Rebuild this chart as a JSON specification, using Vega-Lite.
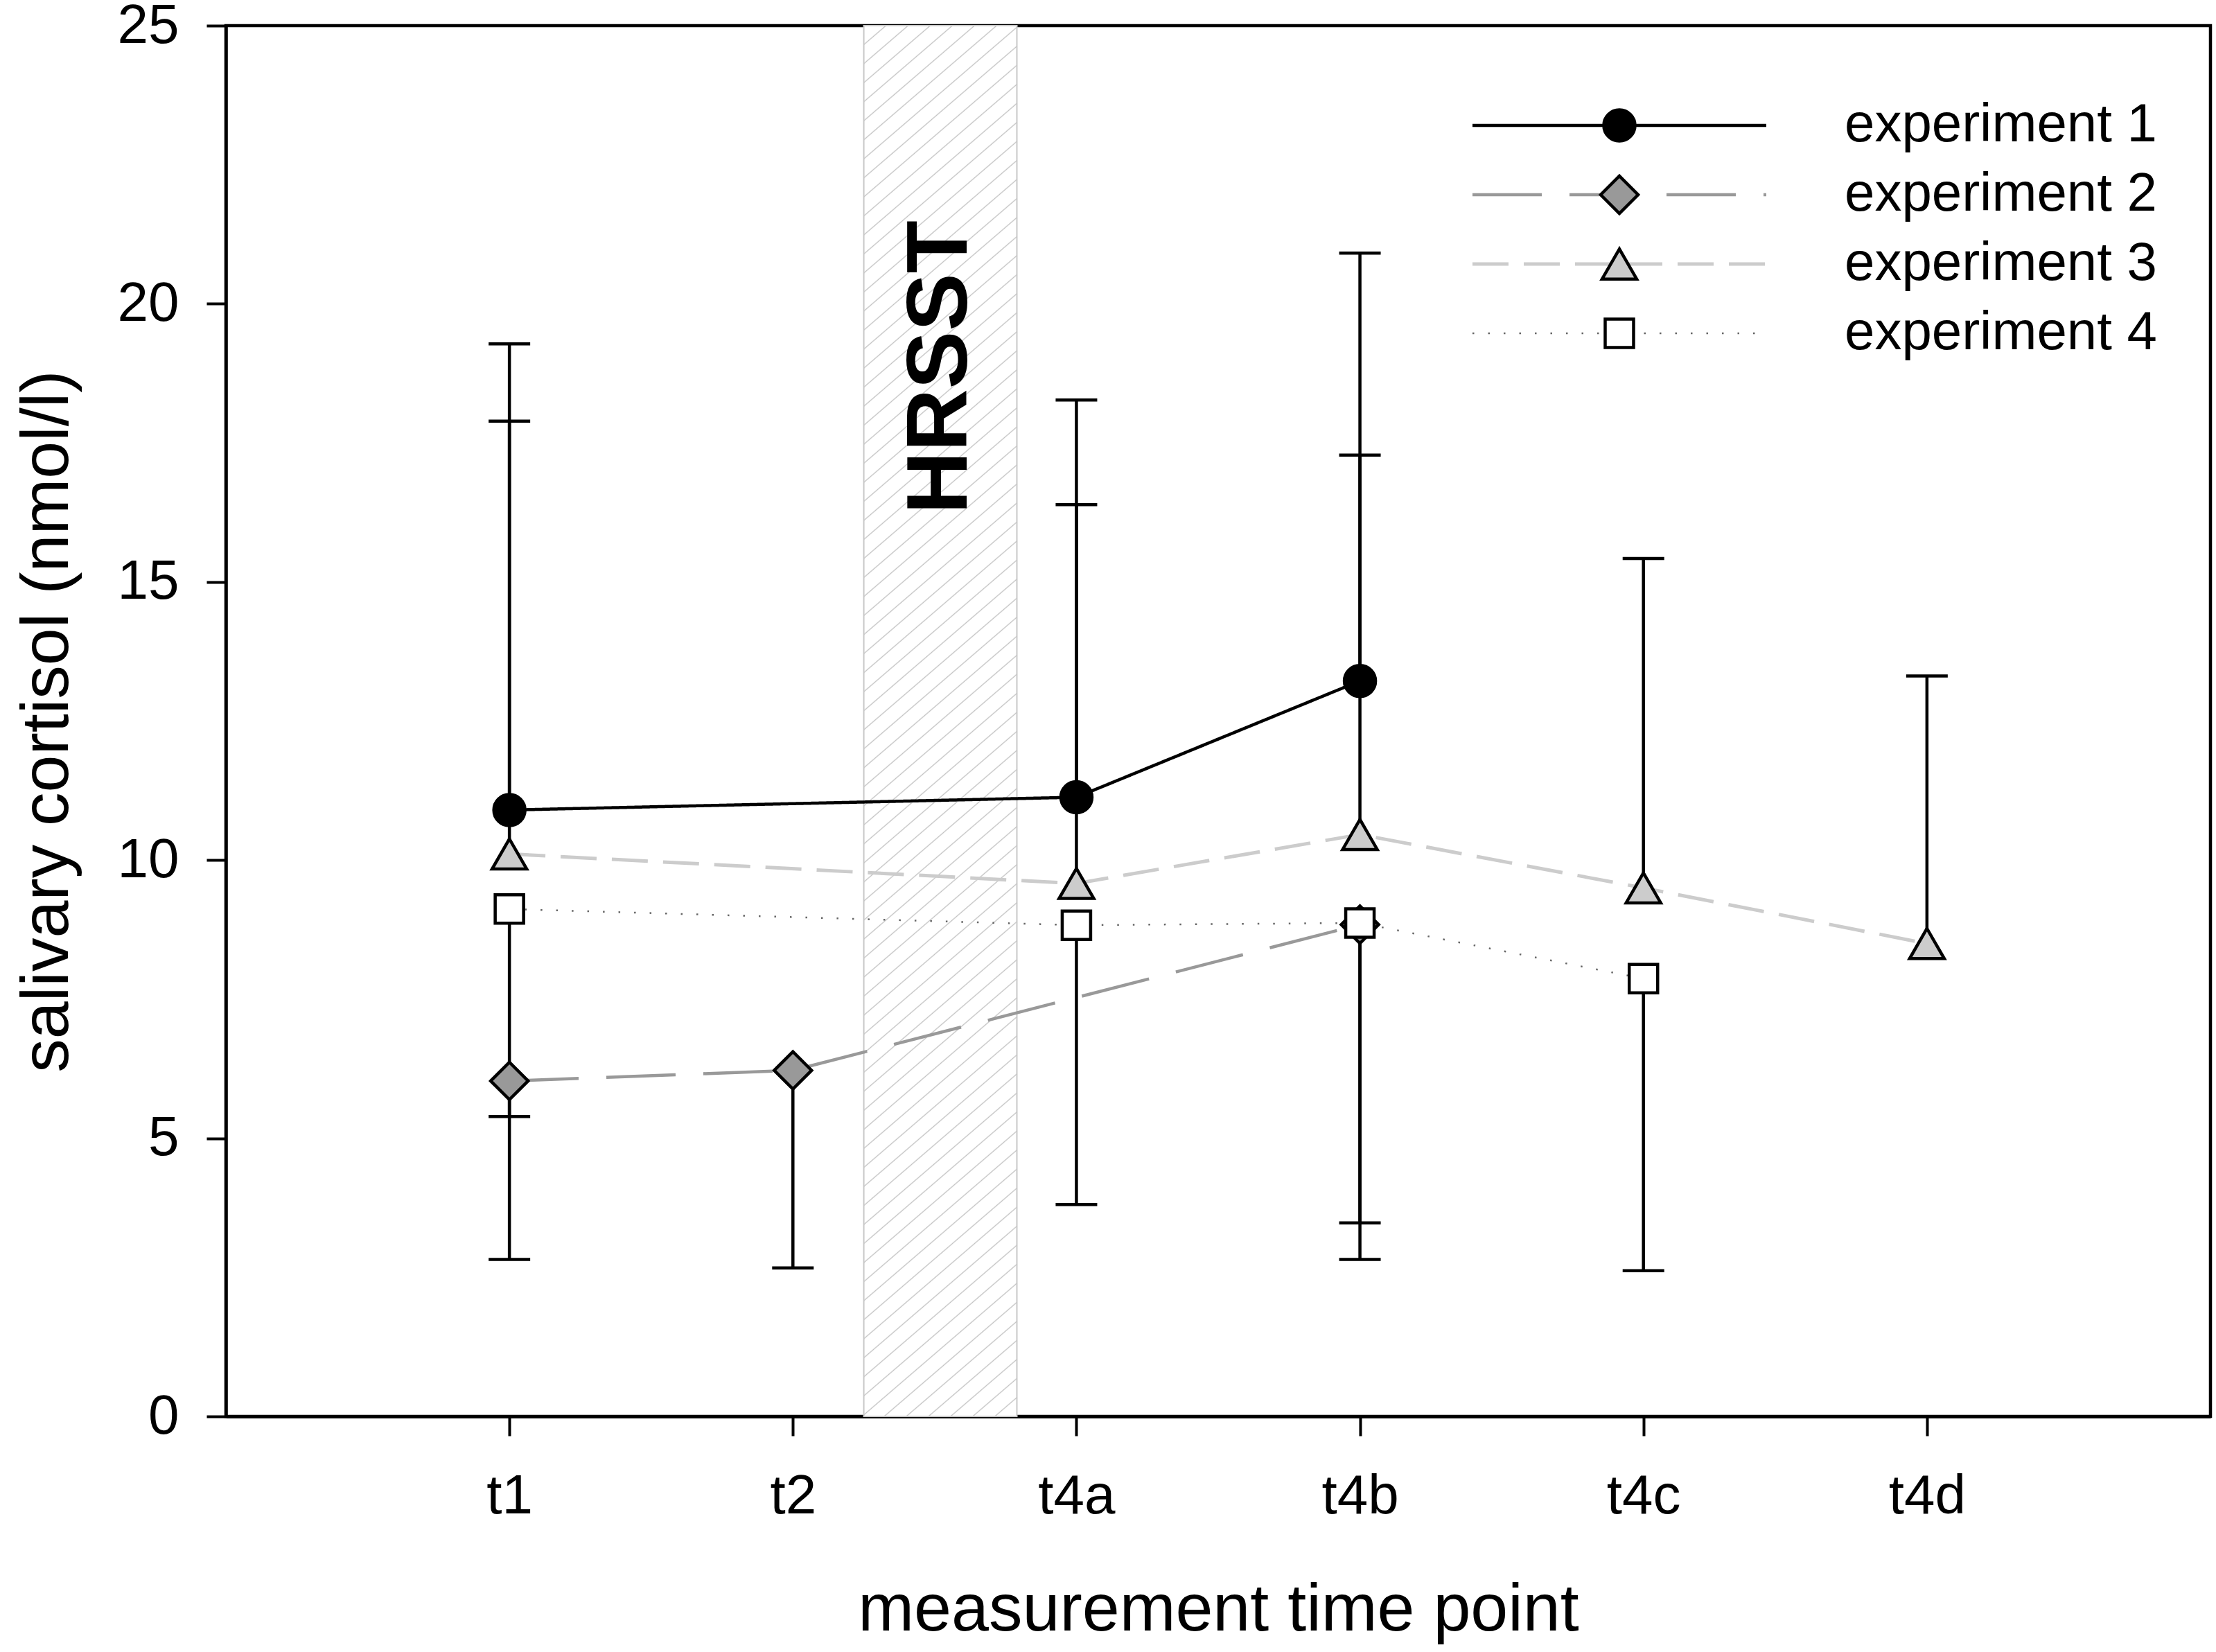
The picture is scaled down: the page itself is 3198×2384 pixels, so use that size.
{
  "$schema": "https://vega.github.io/schema/vega-lite/v6.json",
  "width": 2864,
  "height": 2007,
  "autosize": {"type": "none"},
  "padding": {"left": 326, "top": 37, "right": 8, "bottom": 340},
  "background": "white",
  "datasets": {
    "cortisol": [
      {"experiment": "experiment 1", "time": "t1", "t": 1, "mean": 10.9, "bound": 19.28},
      {"experiment": "experiment 1", "time": "t4a", "t": 3, "mean": 11.13, "bound": 18.27},
      {"experiment": "experiment 1", "time": "t4b", "t": 4, "mean": 13.22, "bound": 20.91},
      {"experiment": "experiment 2", "time": "t1", "t": 1, "mean": 6.03, "bound": 2.82},
      {"experiment": "experiment 2", "time": "t2", "t": 2, "mean": 6.22, "bound": 2.67},
      {"experiment": "experiment 2", "time": "t4b", "t": 4, "mean": 8.84, "bound": 3.48},
      {"experiment": "experiment 3", "time": "t1", "t": 1, "mean": 10.11, "bound": 17.89},
      {"experiment": "experiment 3", "time": "t4a", "t": 3, "mean": 9.58, "bound": 16.39},
      {"experiment": "experiment 3", "time": "t4b", "t": 4, "mean": 10.46, "bound": 17.28},
      {"experiment": "experiment 3", "time": "t4c", "t": 5, "mean": 9.5, "bound": 15.42},
      {"experiment": "experiment 3", "time": "t4d", "t": 6, "mean": 8.5, "bound": 13.31},
      {"experiment": "experiment 4", "time": "t1", "t": 1, "mean": 9.12, "bound": 5.39},
      {"experiment": "experiment 4", "time": "t4a", "t": 3, "mean": 8.83, "bound": 3.81},
      {"experiment": "experiment 4", "time": "t4b", "t": 4, "mean": 8.87, "bound": 2.82},
      {"experiment": "experiment 4", "time": "t4c", "t": 5, "mean": 7.87, "bound": 2.62}
    ],
    "stress": [
      {"phase": "HRSST", "start": 2.25, "end": 2.79}
    ]
  },
  "data": {"name": "cortisol"},
  "layer": [
    {
      "data": {"name": "stress"},
      "mark": {
        "type": "rect",
        "stroke": "#c8c8c8",
        "strokeWidth": 2,
        "fill": {
          "gradient": "linear", "x1": 0, "y1": 0, "x2": 0.1027, "y2": 1.085,
          "stops": [
            {"offset": 0, "color": "#fff"},
            {"offset": 0.0117, "color": "#fff"}, {"offset": 0.0125, "color": "#c4c4c4"}, {"offset": 0.0133, "color": "#fff"},
            {"offset": 0.0242, "color": "#fff"}, {"offset": 0.025, "color": "#c4c4c4"}, {"offset": 0.0258, "color": "#fff"},
            {"offset": 0.0367, "color": "#fff"}, {"offset": 0.0375, "color": "#c4c4c4"}, {"offset": 0.0383, "color": "#fff"},
            {"offset": 0.0492, "color": "#fff"}, {"offset": 0.05, "color": "#c4c4c4"}, {"offset": 0.0508, "color": "#fff"},
            {"offset": 0.0617, "color": "#fff"}, {"offset": 0.0625, "color": "#c4c4c4"}, {"offset": 0.0633, "color": "#fff"},
            {"offset": 0.0742, "color": "#fff"}, {"offset": 0.075, "color": "#c4c4c4"}, {"offset": 0.0758, "color": "#fff"},
            {"offset": 0.0867, "color": "#fff"}, {"offset": 0.0875, "color": "#c4c4c4"}, {"offset": 0.0883, "color": "#fff"},
            {"offset": 0.0992, "color": "#fff"}, {"offset": 0.1, "color": "#c4c4c4"}, {"offset": 0.1008, "color": "#fff"},
            {"offset": 0.1117, "color": "#fff"}, {"offset": 0.1125, "color": "#c4c4c4"}, {"offset": 0.1133, "color": "#fff"},
            {"offset": 0.1242, "color": "#fff"}, {"offset": 0.125, "color": "#c4c4c4"}, {"offset": 0.1258, "color": "#fff"},
            {"offset": 0.1367, "color": "#fff"}, {"offset": 0.1375, "color": "#c4c4c4"}, {"offset": 0.1383, "color": "#fff"},
            {"offset": 0.1492, "color": "#fff"}, {"offset": 0.15, "color": "#c4c4c4"}, {"offset": 0.1508, "color": "#fff"},
            {"offset": 0.1617, "color": "#fff"}, {"offset": 0.1625, "color": "#c4c4c4"}, {"offset": 0.1633, "color": "#fff"},
            {"offset": 0.1742, "color": "#fff"}, {"offset": 0.175, "color": "#c4c4c4"}, {"offset": 0.1758, "color": "#fff"},
            {"offset": 0.1867, "color": "#fff"}, {"offset": 0.1875, "color": "#c4c4c4"}, {"offset": 0.1883, "color": "#fff"},
            {"offset": 0.1992, "color": "#fff"}, {"offset": 0.2, "color": "#c4c4c4"}, {"offset": 0.2008, "color": "#fff"},
            {"offset": 0.2117, "color": "#fff"}, {"offset": 0.2125, "color": "#c4c4c4"}, {"offset": 0.2133, "color": "#fff"},
            {"offset": 0.2242, "color": "#fff"}, {"offset": 0.225, "color": "#c4c4c4"}, {"offset": 0.2258, "color": "#fff"},
            {"offset": 0.2367, "color": "#fff"}, {"offset": 0.2375, "color": "#c4c4c4"}, {"offset": 0.2383, "color": "#fff"},
            {"offset": 0.2492, "color": "#fff"}, {"offset": 0.25, "color": "#c4c4c4"}, {"offset": 0.2508, "color": "#fff"},
            {"offset": 0.2617, "color": "#fff"}, {"offset": 0.2625, "color": "#c4c4c4"}, {"offset": 0.2633, "color": "#fff"},
            {"offset": 0.2742, "color": "#fff"}, {"offset": 0.275, "color": "#c4c4c4"}, {"offset": 0.2758, "color": "#fff"},
            {"offset": 0.2867, "color": "#fff"}, {"offset": 0.2875, "color": "#c4c4c4"}, {"offset": 0.2883, "color": "#fff"},
            {"offset": 0.2992, "color": "#fff"}, {"offset": 0.3, "color": "#c4c4c4"}, {"offset": 0.3008, "color": "#fff"},
            {"offset": 0.3117, "color": "#fff"}, {"offset": 0.3125, "color": "#c4c4c4"}, {"offset": 0.3133, "color": "#fff"},
            {"offset": 0.3242, "color": "#fff"}, {"offset": 0.325, "color": "#c4c4c4"}, {"offset": 0.3258, "color": "#fff"},
            {"offset": 0.3367, "color": "#fff"}, {"offset": 0.3375, "color": "#c4c4c4"}, {"offset": 0.3383, "color": "#fff"},
            {"offset": 0.3492, "color": "#fff"}, {"offset": 0.35, "color": "#c4c4c4"}, {"offset": 0.3508, "color": "#fff"},
            {"offset": 0.3617, "color": "#fff"}, {"offset": 0.3625, "color": "#c4c4c4"}, {"offset": 0.3633, "color": "#fff"},
            {"offset": 0.3742, "color": "#fff"}, {"offset": 0.375, "color": "#c4c4c4"}, {"offset": 0.3758, "color": "#fff"},
            {"offset": 0.3867, "color": "#fff"}, {"offset": 0.3875, "color": "#c4c4c4"}, {"offset": 0.3883, "color": "#fff"},
            {"offset": 0.3992, "color": "#fff"}, {"offset": 0.4, "color": "#c4c4c4"}, {"offset": 0.4008, "color": "#fff"},
            {"offset": 0.4117, "color": "#fff"}, {"offset": 0.4125, "color": "#c4c4c4"}, {"offset": 0.4133, "color": "#fff"},
            {"offset": 0.4242, "color": "#fff"}, {"offset": 0.425, "color": "#c4c4c4"}, {"offset": 0.4258, "color": "#fff"},
            {"offset": 0.4367, "color": "#fff"}, {"offset": 0.4375, "color": "#c4c4c4"}, {"offset": 0.4383, "color": "#fff"},
            {"offset": 0.4492, "color": "#fff"}, {"offset": 0.45, "color": "#c4c4c4"}, {"offset": 0.4508, "color": "#fff"},
            {"offset": 0.4617, "color": "#fff"}, {"offset": 0.4625, "color": "#c4c4c4"}, {"offset": 0.4633, "color": "#fff"},
            {"offset": 0.4742, "color": "#fff"}, {"offset": 0.475, "color": "#c4c4c4"}, {"offset": 0.4758, "color": "#fff"},
            {"offset": 0.4867, "color": "#fff"}, {"offset": 0.4875, "color": "#c4c4c4"}, {"offset": 0.4883, "color": "#fff"},
            {"offset": 0.4992, "color": "#fff"}, {"offset": 0.5, "color": "#c4c4c4"}, {"offset": 0.5008, "color": "#fff"},
            {"offset": 0.5117, "color": "#fff"}, {"offset": 0.5125, "color": "#c4c4c4"}, {"offset": 0.5133, "color": "#fff"},
            {"offset": 0.5242, "color": "#fff"}, {"offset": 0.525, "color": "#c4c4c4"}, {"offset": 0.5258, "color": "#fff"},
            {"offset": 0.5367, "color": "#fff"}, {"offset": 0.5375, "color": "#c4c4c4"}, {"offset": 0.5383, "color": "#fff"},
            {"offset": 0.5492, "color": "#fff"}, {"offset": 0.55, "color": "#c4c4c4"}, {"offset": 0.5508, "color": "#fff"},
            {"offset": 0.5617, "color": "#fff"}, {"offset": 0.5625, "color": "#c4c4c4"}, {"offset": 0.5633, "color": "#fff"},
            {"offset": 0.5742, "color": "#fff"}, {"offset": 0.575, "color": "#c4c4c4"}, {"offset": 0.5758, "color": "#fff"},
            {"offset": 0.5867, "color": "#fff"}, {"offset": 0.5875, "color": "#c4c4c4"}, {"offset": 0.5883, "color": "#fff"},
            {"offset": 0.5992, "color": "#fff"}, {"offset": 0.6, "color": "#c4c4c4"}, {"offset": 0.6008, "color": "#fff"},
            {"offset": 0.6117, "color": "#fff"}, {"offset": 0.6125, "color": "#c4c4c4"}, {"offset": 0.6133, "color": "#fff"},
            {"offset": 0.6242, "color": "#fff"}, {"offset": 0.625, "color": "#c4c4c4"}, {"offset": 0.6258, "color": "#fff"},
            {"offset": 0.6367, "color": "#fff"}, {"offset": 0.6375, "color": "#c4c4c4"}, {"offset": 0.6383, "color": "#fff"},
            {"offset": 0.6492, "color": "#fff"}, {"offset": 0.65, "color": "#c4c4c4"}, {"offset": 0.6508, "color": "#fff"},
            {"offset": 0.6617, "color": "#fff"}, {"offset": 0.6625, "color": "#c4c4c4"}, {"offset": 0.6633, "color": "#fff"},
            {"offset": 0.6742, "color": "#fff"}, {"offset": 0.675, "color": "#c4c4c4"}, {"offset": 0.6758, "color": "#fff"},
            {"offset": 0.6867, "color": "#fff"}, {"offset": 0.6875, "color": "#c4c4c4"}, {"offset": 0.6883, "color": "#fff"},
            {"offset": 0.6992, "color": "#fff"}, {"offset": 0.7, "color": "#c4c4c4"}, {"offset": 0.7008, "color": "#fff"},
            {"offset": 0.7117, "color": "#fff"}, {"offset": 0.7125, "color": "#c4c4c4"}, {"offset": 0.7133, "color": "#fff"},
            {"offset": 0.7242, "color": "#fff"}, {"offset": 0.725, "color": "#c4c4c4"}, {"offset": 0.7258, "color": "#fff"},
            {"offset": 0.7367, "color": "#fff"}, {"offset": 0.7375, "color": "#c4c4c4"}, {"offset": 0.7383, "color": "#fff"},
            {"offset": 0.7492, "color": "#fff"}, {"offset": 0.75, "color": "#c4c4c4"}, {"offset": 0.7508, "color": "#fff"},
            {"offset": 0.7617, "color": "#fff"}, {"offset": 0.7625, "color": "#c4c4c4"}, {"offset": 0.7633, "color": "#fff"},
            {"offset": 0.7742, "color": "#fff"}, {"offset": 0.775, "color": "#c4c4c4"}, {"offset": 0.7758, "color": "#fff"},
            {"offset": 0.7867, "color": "#fff"}, {"offset": 0.7875, "color": "#c4c4c4"}, {"offset": 0.7883, "color": "#fff"},
            {"offset": 0.7992, "color": "#fff"}, {"offset": 0.8, "color": "#c4c4c4"}, {"offset": 0.8008, "color": "#fff"},
            {"offset": 0.8117, "color": "#fff"}, {"offset": 0.8125, "color": "#c4c4c4"}, {"offset": 0.8133, "color": "#fff"},
            {"offset": 0.8242, "color": "#fff"}, {"offset": 0.825, "color": "#c4c4c4"}, {"offset": 0.8258, "color": "#fff"},
            {"offset": 0.8367, "color": "#fff"}, {"offset": 0.8375, "color": "#c4c4c4"}, {"offset": 0.8383, "color": "#fff"},
            {"offset": 0.8492, "color": "#fff"}, {"offset": 0.85, "color": "#c4c4c4"}, {"offset": 0.8508, "color": "#fff"},
            {"offset": 0.8617, "color": "#fff"}, {"offset": 0.8625, "color": "#c4c4c4"}, {"offset": 0.8633, "color": "#fff"},
            {"offset": 0.8742, "color": "#fff"}, {"offset": 0.875, "color": "#c4c4c4"}, {"offset": 0.8758, "color": "#fff"},
            {"offset": 0.8867, "color": "#fff"}, {"offset": 0.8875, "color": "#c4c4c4"}, {"offset": 0.8883, "color": "#fff"},
            {"offset": 0.8992, "color": "#fff"}, {"offset": 0.9, "color": "#c4c4c4"}, {"offset": 0.9008, "color": "#fff"},
            {"offset": 0.9117, "color": "#fff"}, {"offset": 0.9125, "color": "#c4c4c4"}, {"offset": 0.9133, "color": "#fff"},
            {"offset": 0.9242, "color": "#fff"}, {"offset": 0.925, "color": "#c4c4c4"}, {"offset": 0.9258, "color": "#fff"},
            {"offset": 0.9367, "color": "#fff"}, {"offset": 0.9375, "color": "#c4c4c4"}, {"offset": 0.9383, "color": "#fff"},
            {"offset": 0.9492, "color": "#fff"}, {"offset": 0.95, "color": "#c4c4c4"}, {"offset": 0.9508, "color": "#fff"},
            {"offset": 0.9617, "color": "#fff"}, {"offset": 0.9625, "color": "#c4c4c4"}, {"offset": 0.9633, "color": "#fff"},
            {"offset": 0.9742, "color": "#fff"}, {"offset": 0.975, "color": "#c4c4c4"}, {"offset": 0.9758, "color": "#fff"},
            {"offset": 0.9867, "color": "#fff"}, {"offset": 0.9875, "color": "#c4c4c4"}, {"offset": 0.9883, "color": "#fff"},
            {"offset": 1, "color": "#fff"}
          ]
        }
      },
      "encoding": {
        "x": {
          "field": "start",
          "type": "quantitative",
          "title": "measurement time point",
          "scale": {"domain": [0, 7], "nice": false, "zero": false},
          "axis": {
            "values": [1, 2, 3, 4, 5, 6],
            "labelExpr": "['t1', 't2', 't4a', 't4b', 't4c', 't4d'][datum.value - 1]",
            "labelFlush": false
          }
        },
        "x2": {"field": "end"},
        "y": {
          "datum": 0,
          "type": "quantitative",
          "title": "salivary cortisol (nmol/l)",
          "scale": {"domain": [0, 25], "nice": false},
          "axis": {"values": [0, 5, 10, 15, 20, 25], "format": "d"}
        },
        "y2": {"datum": 25}
      }
    },
    {
      "data": {"name": "stress"},
      "mark": {
        "type": "text",
        "angle": 270,
        "font": "Liberation Sans",
        "fontSize": 125,
        "fontWeight": "bold",
        "align": "center",
        "baseline": "middle",
        "color": "black"
      },
      "encoding": {
        "text": {"field": "phase"},
        "x": {"datum": 2.52, "type": "quantitative", "title": "measurement time point"},
        "y": {"datum": 18.86, "type": "quantitative", "title": "salivary cortisol (nmol/l)"}
      }
    },
    {
      "mark": {"type": "rule", "color": "black", "strokeWidth": 4.5},
      "encoding": {
        "x": {"field": "t", "type": "quantitative", "title": "measurement time point"},
        "y": {"field": "mean", "type": "quantitative", "title": "salivary cortisol (nmol/l)"},
        "y2": {"field": "bound"}
      }
    },
    {
      "mark": {"type": "tick", "orient": "horizontal", "color": "black", "size": 60, "thickness": 4.5, "opacity": 1},
      "encoding": {
        "x": {"field": "t", "type": "quantitative", "title": "measurement time point"},
        "y": {"field": "bound", "type": "quantitative", "title": "salivary cortisol (nmol/l)"}
      }
    },
    {
      "mark": {"type": "line", "strokeCap": "butt"},
      "encoding": {
        "x": {"field": "t", "type": "quantitative", "title": "measurement time point"},
        "y": {"field": "mean", "type": "quantitative", "title": "salivary cortisol (nmol/l)"},
        "color": {
          "field": "experiment",
          "type": "nominal",
          "scale": {
            "domain": ["experiment 1", "experiment 2", "experiment 3", "experiment 4"],
            "range": ["black", "#999999", "#cccccc", "#666666"]
          },
          "legend": {
            "orient": "none", "legendX": 1972, "legendY": 105, "title": null, "padding": 0,
            "labelFont": "Liberation Sans", "labelFontSize": 78, "labelColor": "black",
            "labelOffset": 286, "labelLimit": 1000, "rowPadding": 22,
            "symbolType": "M-8,0L8,0", "symbolSize": 2809
          }
        },
        "strokeDash": {
          "field": "experiment",
          "type": "nominal",
          "scale": {
            "domain": ["experiment 1", "experiment 2", "experiment 3", "experiment 4"],
            "range": [[1, 0], [100, 40], [52, 22], [2.5, 20]]
          },
          "legend": {
            "orient": "none", "legendX": 1972, "legendY": 105, "title": null, "padding": 0,
            "labelFont": "Liberation Sans", "labelFontSize": 78, "labelColor": "black",
            "labelOffset": 286, "labelLimit": 1000, "rowPadding": 22,
            "symbolType": "M-8,0L8,0", "symbolSize": 2809
          }
        },
        "strokeWidth": {
          "field": "experiment",
          "type": "nominal",
          "scale": {
            "type": "ordinal",
            "domain": ["experiment 1", "experiment 2", "experiment 3", "experiment 4"],
            "range": [4.5, 4.5, 5, 2.5]
          },
          "legend": {
            "orient": "none", "legendX": 1972, "legendY": 105, "title": null, "padding": 0,
            "labelFont": "Liberation Sans", "labelFontSize": 78, "labelColor": "black",
            "labelOffset": 286, "labelLimit": 1000, "rowPadding": 22,
            "symbolType": "M-8,0L8,0", "symbolSize": 2809
          }
        }
      }
    },
    {
      "mark": {"type": "point", "filled": true, "stroke": "black", "strokeWidth": 4.5, "opacity": 1},
      "encoding": {
        "x": {"field": "t", "type": "quantitative", "title": "measurement time point"},
        "y": {"field": "mean", "type": "quantitative", "title": "salivary cortisol (nmol/l)"},
        "fill": {
          "field": "experiment",
          "type": "nominal",
          "scale": {"range": ["black", "#999999", "#cccccc", "white"]},
          "legend": {
            "orient": "none", "legendX": 1961, "legendY": 94, "title": null, "padding": 0,
            "labelFontSize": 100, "labelOpacity": 0, "labelExpr": "''", "rowPadding": 0,
            "symbolStrokeWidth": 4.5, "symbolOpacity": 1, "zindex": 1
          }
        },
        "shape": {
          "field": "experiment",
          "type": "nominal",
          "scale": {"range": ["circle", "diamond", "triangle-up", "square"]},
          "legend": {
            "orient": "none", "legendX": 1961, "legendY": 94, "title": null, "padding": 0,
            "labelFontSize": 100, "labelOpacity": 0, "labelExpr": "''", "rowPadding": 0,
            "symbolStrokeWidth": 4.5, "symbolOpacity": 1, "zindex": 1
          }
        },
        "size": {
          "field": "experiment",
          "type": "nominal",
          "scale": {"type": "ordinal", "range": [2025, 2916, 2500, 1681]},
          "legend": {
            "orient": "none", "legendX": 1961, "legendY": 94, "title": null, "padding": 0,
            "labelFontSize": 100, "labelOpacity": 0, "labelExpr": "''", "rowPadding": 0,
            "symbolStrokeWidth": 4.5, "symbolOpacity": 1, "zindex": 1
          }
        }
      }
    }
  ],
  "config": {
    "font": "Liberation Sans",
    "view": {"stroke": "black", "strokeWidth": 4.5},
    "axis": {
      "grid": false,
      "domainColor": "black",
      "domainWidth": 4.5,
      "tickColor": "black",
      "tickWidth": 4,
      "tickSize": 28,
      "labelFont": "Liberation Sans",
      "labelFontSize": 80,
      "labelColor": "black",
      "titleFont": "Liberation Sans",
      "titleFontSize": 97,
      "titleFontWeight": "normal",
      "titleColor": "black"
    },
    "axisX": {"labelPadding": 48, "titlePadding": 76, "labelAngle": 0},
    "axisY": {"labelPadding": 40, "titlePadding": 52}
  }
}
